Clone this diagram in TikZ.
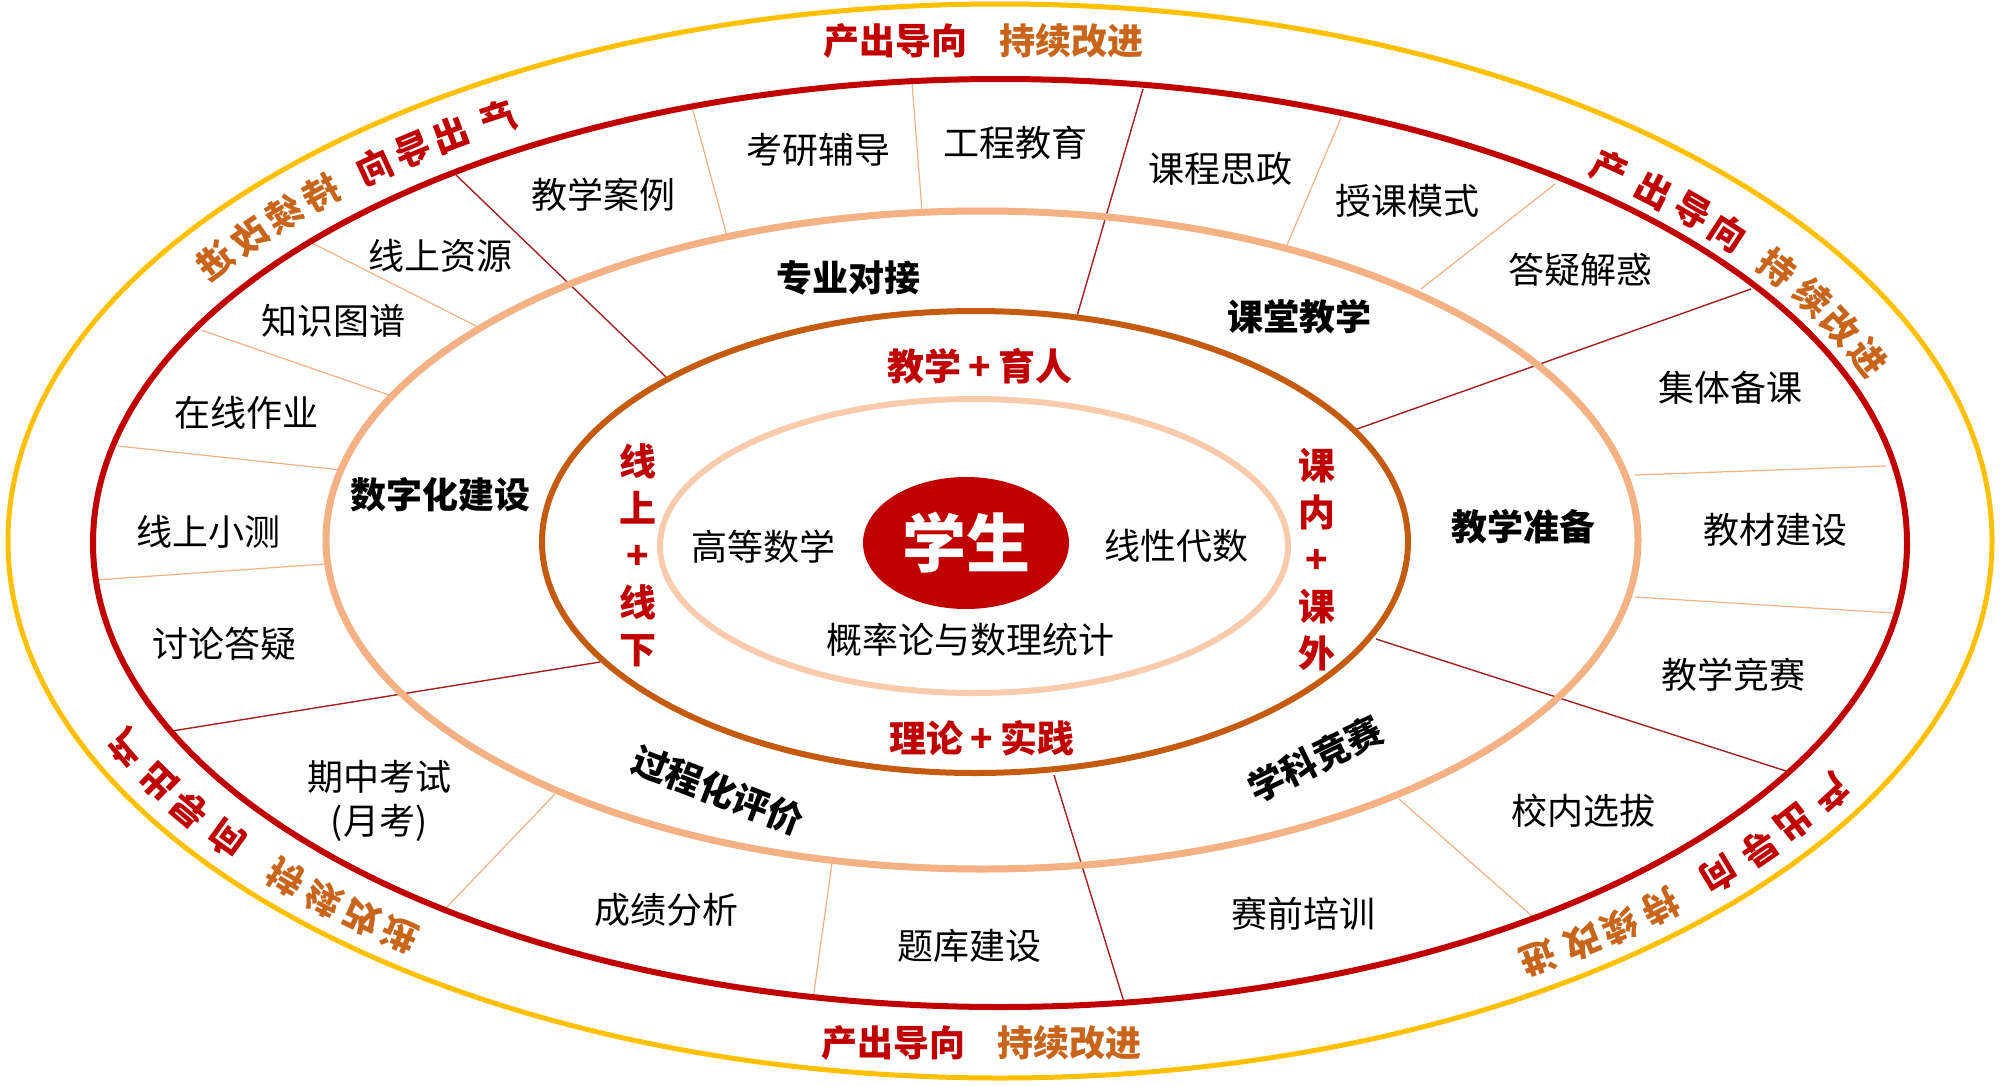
\documentclass[tikz,border=0pt]{standalone}
\usepackage{fontspec}
\setmainfont{Noto Sans CJK SC}
\definecolor{cYellow}{HTML}{FFC000}
\definecolor{cRed}{HTML}{C00000}
\definecolor{cPeach}{HTML}{F4B183}
\definecolor{cBrown}{HTML}{C55A11}
\definecolor{cPink}{HTML}{F8CBAD}
\definecolor{cLineRed}{HTML}{A52020}
\definecolor{cOrangeText}{HTML}{C8651B}
\tikzset{
  item/.style={font=\fontsize{36}{44}\selectfont, text=black, inner sep=0pt, align=center},
  sector/.style={font=\fontsize{36}{44}\selectfont\bfseries, text=black, inner sep=0pt},
  redlbl/.style={font=\fontsize{37}{47}\selectfont\bfseries, text=cRed, inner sep=0pt, align=center},
  toplbl/.style={font=\fontsize{36}{40}\selectfont\bfseries, inner sep=0pt},
  arcch/.style={font=\fontsize{36}{40}\selectfont\bfseries, inner sep=0pt},
  divred/.style={draw=cLineRed, line width=1.4pt},
  divpeach/.style={draw=cPeach, line width=1.2pt},
}
% #1 radius scale, #2 list t/char/colour, #3 name prefix
\newcommand\arclabel[3]{%
  \foreach \t/\ch/\col [count=\i] in {#2} {
    \pgfmathsetmacro\px{1000+950*#1*cos(\t)}
    \pgfmathsetmacro\py{543+500*#1*sin(\t)}
    \pgfmathsetmacro\rr{atan2(-500*cos(\t),-950*sin(\t))}
    \node[arcch, text=\col, rotate=\rr] (#3\i) at (\px,\py) {\ch};
  }%
}
\begin{document}
\begin{tikzpicture}[x=1pt,y=-1pt]
\useasboundingbox (0,0) rectangle (2000,1085);
\fill[white] (0,0) rectangle (2000,1085);

% divider lines (dark red)
\coordinate (l1a) at (666,377); \coordinate (l1b) at (456,175);
\coordinate (l2a) at (1077,316); \coordinate (l2b) at (1143,89);
\coordinate (l3a) at (1357,429); \coordinate (l3b) at (1751,289);
\coordinate (l4a) at (1376,639); \coordinate (l4b) at (1786,771);
\coordinate (l5a) at (1054,775); \coordinate (l5b) at (1124,1002);
\coordinate (l6a) at (600,662); \coordinate (l6b) at (172,731);
\foreach \k in {1,...,6} { \draw[divred] (l\k a) -- (l\k b); }

% divider lines (peach)
\coordinate (p1a) at (312,243); \coordinate (p1b) at (478,327);
\coordinate (p2a) at (201,330); \coordinate (p2b) at (389,395);
\coordinate (p3a) at (118,446); \coordinate (p3b) at (341,470);
\coordinate (p4a) at (96,580); \coordinate (p4b) at (325,564);
\coordinate (p5a) at (692,107); \coordinate (p5b) at (727,236);
\coordinate (p6a) at (912,83); \coordinate (p6b) at (922,211);
\coordinate (p7a) at (1341,118); \coordinate (p7b) at (1287,245);
\coordinate (p8a) at (1555,184); \coordinate (p8b) at (1421,289);
\coordinate (p9a) at (1635,475); \coordinate (p9b) at (1886,466);
\coordinate (p10a) at (1635,597); \coordinate (p10b) at (1893,613);
\coordinate (p11a) at (1399,799); \coordinate (p11b) at (1533,917);
\coordinate (p12a) at (555,794); \coordinate (p12b) at (446,908);
\coordinate (p13a) at (832,863); \coordinate (p13b) at (813,999);
\foreach \k in {1,...,13} { \draw[divpeach] (p\k a) -- (p\k b); }

% rings
\draw[cYellow, line width=5pt] (1000,541) ellipse [x radius=992pt, y radius=537pt];
\draw[cRed, line width=6pt] (1000,543) ellipse [x radius=907pt, y radius=464pt];
\draw[cPeach, line width=7pt] (982,540) ellipse [x radius=656pt, y radius=329pt];
\draw[cBrown, line width=6pt] (975,542) ellipse [x radius=433pt, y radius=231pt];
\draw[cPink, line width=6pt] (974,546) ellipse [x radius=314pt, y radius=147pt];
\fill[cRed] (966,543) ellipse [x radius=103pt, y radius=66pt];

% top and bottom labels
\node[toplbl, text=cRed] (t1) at (895,41) {产出导向};
\node[toplbl, text=cOrangeText] (t2) at (1071,41) {持续改进};
\node[toplbl, text=cRed] (b1) at (893,1043) {产出导向};
\node[toplbl, text=cOrangeText] (b2) at (1069,1043) {持续改进};

% curved labels, right side
\arclabel{0.986}{-49.4/产/cRed,-45.7/出/cRed,-42.3/导/cRed,-39.0/向/cRed,-33.9/持/cOrangeText,-29.8/续/cOrangeText,-26.1/改/cOrangeText,-22.1/进/cOrangeText}{tr}
\arclabel{1.006}{29.7/产/cRed,33.8/出/cRed,37.4/导/cRed,41.2/向/cRed,46.3/持/cOrangeText,49.6/续/cOrangeText,52.4/改/cOrangeText,55.7/进/cOrangeText}{br}
% curved labels, left side (mirror images)
\begin{scope}[xshift=2000pt, xscale=-1, transform shape]
\arclabel{1.0}{-58.1/产/cRed,-54.7/出/cRed,-51.8/导/cRed,-48.8/向/cRed,-44.4/持/cOrangeText,-41.1/续/cOrangeText,-37.9/改/cOrangeText,-34.3/进/cOrangeText}{tl}
\arclabel{1.006}{24.1/产/cRed,28.3/出/cRed,32.0/导/cRed,36.0/向/cRed,41.7/持/cOrangeText,45.0/续/cOrangeText,48.1/改/cOrangeText,51.1/进/cOrangeText}{bl}
\end{scope}

% outer ring items
\node[item] (n1) at (603,195) {教学案例};
\node[item] (n2) at (818,150) {考研辅导};
\node[item] (n3) at (1015,143) {工程教育};
\node[item] (n4) at (1220,169) {课程思政};
\node[item] (n5) at (1407,201) {授课模式};
\node[item] (n6) at (1580,270) {答疑解惑};
\node[item] (n7) at (1730,388) {集体备课};
\node[item] (n8) at (1775,530) {教材建设};
\node[item] (n9) at (1733,675) {教学竞赛};
\node[item] (n10) at (1583,811) {校内选拔};
\node[item] (n11) at (1303,914) {赛前培训};
\node[item] (n12) at (969,946) {题库建设};
\node[item] (n13) at (666,910) {成绩分析};
\node[item] (n14) at (379,801) {期中考试\\(月考)};
\node[item] (n15) at (224,644) {讨论答疑};
\node[item] (n16) at (208,532) {线上小测};
\node[item] (n17) at (246,413) {在线作业};
\node[item] (n18) at (333,321) {知识图谱};
\node[item] (n19) at (440,256) {线上资源};

% sector labels
\node[sector] (s1) at (848,278) {专业对接};
\node[sector] (s2) at (1299,317) {课堂教学};
\node[sector] (s3) at (1523,527) {教学准备};
\node[sector, rotate=26] (s4) at (1315,759) {学科竞赛};
\node[sector, rotate=-21] (s5) at (718,790) {过程化评价};
\node[sector] (s6) at (440,495) {数字化建设};

% inner labels
\node[redlbl] (c1) at (980,366) {教学\hspace{.2em}+\hspace{.2em}育人};
\node[redlbl] (c2) at (982,738) {理论\hspace{.2em}+\hspace{.2em}实践};
\node[redlbl] (c3) at (638,555) {线\\上\\+\\线\\下};
\node[redlbl] (c4) at (1317,560) {课\\内\\+\\课\\外};
\node[item] (c5) at (763,547) {高等数学};
\node[item] (c6) at (1176,546) {线性代数};
\node[item] (c7) at (970,640) {概率论与数理统计};
\node[font=\fontsize{64}{70}\selectfont\bfseries, text=white, inner sep=0pt] (c8) at (966,543) {学生};
\end{tikzpicture}
\end{document}
